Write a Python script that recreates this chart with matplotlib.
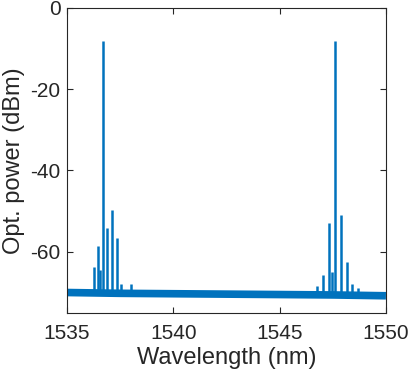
import matplotlib
matplotlib.use("Agg")
import matplotlib.pyplot as plt

plt.rcParams['font.family'] = ['Liberation Sans', 'DejaVu Sans']

# noise floor of the spectrum (dBm) at a few wavelengths
floor_wl = [1535.0, 1537.5, 1540.0, 1542.5, 1545.0, 1547.5, 1550.0]
floor_dbm = [-70.0, -70.2, -70.3, -70.4, -70.5, -70.6, -70.8]

# spectral lines: wavelength (nm), peak power (dBm)
peak_wl = [1536.25, 1536.47, 1536.57, 1536.67, 1536.90, 1537.12, 1537.34, 1537.53, 1538.00,
           1546.77, 1547.05, 1547.33, 1547.48, 1547.61, 1547.88, 1548.16, 1548.42, 1548.70]
peak_dbm = [-63.8, -58.5, -64.5, -8.3, -54.2, -49.8, -56.7, -67.8, -68.0,
            -68.3, -65.6, -52.9, -65.0, -8.2, -50.9, -62.5, -68.0, -69.0]

xticks = [1535, 1540, 1545, 1550]
yticks = [-60, -40, -20, 0]

blue = '#0072BD'
axcol = '#262626'

fig = plt.figure(figsize=(4.11, 3.82), dpi=100)
ax = fig.add_axes([0.163, 0.181, 0.776, 0.799])

ax.plot(floor_wl, floor_dbm, color=blue, lw=5.5, solid_capstyle='butt')
base = [-70.3 if w < 1542 else -70.6 for w in peak_wl]
ax.vlines(peak_wl, base, peak_dbm, color=blue, lw=1.8)

ax.set_xlim(1535, 1550)
ax.set_ylim(-75, 0)
ax.set_xticks(xticks)
ax.set_xticklabels([str(t) for t in xticks])
ax.set_yticks(yticks)
ax.set_yticklabels([str(t) for t in yticks])
ax.tick_params(direction='in', length=4, width=0.8, colors=axcol, labelsize=15,
               top=True, right=True)
ax.tick_params(axis='x', pad=8)
ax.tick_params(axis='y', pad=4.5)
for s in ax.spines.values():
    s.set_color(axcol)
    s.set_linewidth(0.8)
ax.set_xlabel('Wavelength (nm)', fontsize=17, color=axcol, labelpad=3)
ax.set_ylabel('Opt. power (dBm)', fontsize=17, color=axcol, labelpad=4)

fig.savefig('out.png', dpi=100)
